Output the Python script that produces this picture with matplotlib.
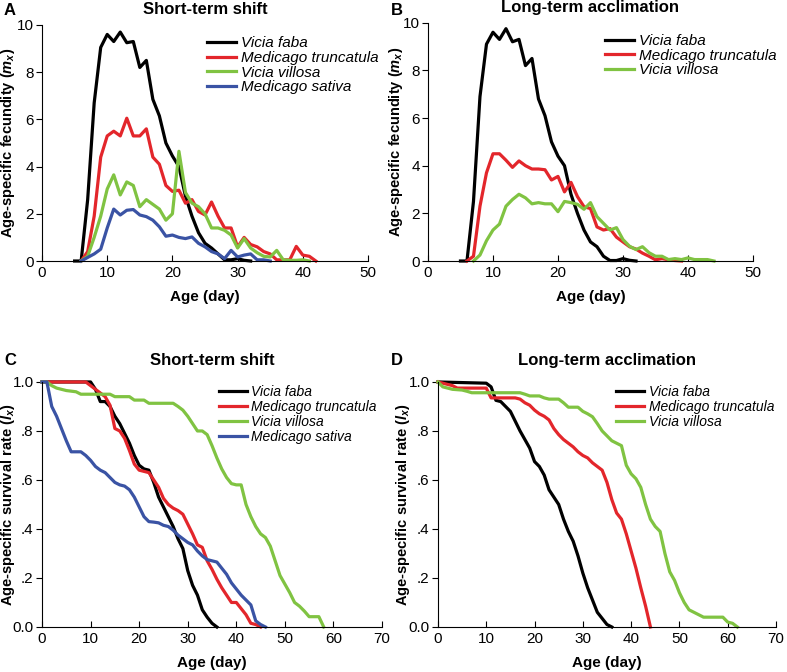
import matplotlib
matplotlib.use('Agg')
import matplotlib.pyplot as plt

plt.rcParams['font.family'] = ['Liberation Sans', 'DejaVu Sans']
plt.rcParams['mathtext.fontset'] = 'custom'
plt.rcParams['mathtext.it'] = 'Liberation Sans:bold:italic'
plt.rcParams['mathtext.rm'] = 'Liberation Sans:bold'

# couleurs des especes
col_faba = '#000000'
col_trunc = '#e3262b'
col_vill = '#80c342'
col_sat = '#3a53a4'

# A - fecondite, short-term shift
a_faba_days = list(range(5, 33))
a_faba = [0, 0, 2.6, 6.7, 9.05, 9.6, 9.3, 9.7, 9.25, 9.3, 8.2, 8.5, 6.85, 6.15,
          5.0, 4.45, 4.0, 2.75, 1.9, 1.2, 0.75, 0.55, 0.3, 0.05, 0.05, 0.1, 0.03, 0]
a_trunc_days = list(range(6, 43))
a_trunc = [0, 0.4, 1.9, 4.4, 5.3, 5.5, 5.3, 6.05, 5.3, 5.3, 5.6, 4.4, 4.1, 3.2,
           2.95, 3.0, 2.45, 2.6, 2.1, 1.95, 2.5, 1.9, 1.4, 1.4, 0.6, 1.0, 0.7, 0.6,
           0.4, 0.3, 0.05, 0.05, 0.05, 0.62, 0.25, 0.2, 0]
a_vill_days = list(range(6, 42))
a_vill = [0, 0.2, 1.0, 1.9, 3.05, 3.65, 2.8, 3.35, 3.2, 2.3, 2.6, 2.4, 2.2, 1.73,
          2.0, 4.65, 2.9, 2.45, 2.3, 2.0, 1.4, 1.4, 1.3, 1.1, 0.55, 0.95, 0.55,
          0.35, 0.2, 0.17, 0.45, 0.05, 0.03, 0.03, 0.05, 0]
a_sat_days = list(range(6, 36))
a_sat = [0, 0.15, 0.3, 0.5, 1.4, 2.2, 1.95, 2.15, 2.18, 1.95, 1.88, 1.73, 1.45,
         1.05, 1.1, 1.0, 0.95, 1.02, 0.75, 0.6, 0.4, 0.3, 0.1, 0.45, 0.17, 0.25,
         0.3, 0.05, 0.05, 0]

# B - fecondite, long-term acclimation
b_faba_days = list(range(5, 33))
b_faba = [0, 0, 2.5, 6.9, 9.1, 9.6, 9.3, 9.75, 9.2, 9.3, 8.2, 8.5, 6.8, 6.1,
          5.0, 4.4, 4.0, 2.8, 2.0, 1.3, 0.8, 0.6, 0.2, 0.02, 0.02, 0.1, 0.03, 0]
b_trunc_days = list(range(6, 40))
b_trunc = [0, 0.2, 2.3, 3.7, 4.5, 4.5, 4.23, 3.93, 4.2, 4.0, 3.86, 3.86, 3.83,
           3.4, 3.55, 2.9, 3.3, 2.7, 2.28, 2.2, 1.43, 1.3, 1.36, 1.0, 0.8, 0.6,
           0.5, 0.33, 0.2, 0.05, 0.1, 0.05, 0.02, 0]
b_vill_days = list(range(7, 45))
b_vill = [0, 0.25, 0.85, 1.3, 1.55, 2.3, 2.58, 2.8, 2.65, 2.4, 2.45, 2.4, 2.4,
          2.07, 2.5, 2.45, 2.38, 2.17, 2.45, 1.86, 1.58, 1.3, 1.4, 0.9, 0.62,
          0.48, 0.6, 0.35, 0.2, 0.2, 0.06, 0.1, 0.06, 0.13, 0.06, 0.06, 0.06, 0]

# C - survie, short-term shift
c_faba_days = [0, 10] + list(range(11, 37))
c_faba = [1.0, 1.0, 0.97, 0.92, 0.92, 0.90, 0.86, 0.83, 0.79, 0.75, 0.70, 0.66,
          0.645, 0.64, 0.59, 0.53, 0.49, 0.45, 0.41, 0.36, 0.32, 0.23, 0.17,
          0.13, 0.07, 0.04, 0.015, 0]
c_trunc_days = [0, 9] + list(range(10, 46))
c_trunc = [1.0, 1.0, 0.985, 0.97, 0.955, 0.94, 0.905, 0.81, 0.80, 0.77, 0.72,
           0.665, 0.64, 0.635, 0.63, 0.60, 0.57, 0.525, 0.50, 0.485, 0.475, 0.46,
           0.42, 0.38, 0.335, 0.325, 0.27, 0.235, 0.195, 0.16, 0.13, 0.10, 0.10,
           0.075, 0.05, 0.015, 0.01, 0]
c_vill_days = [0, 1, 2, 3, 5, 7, 8, 14, 15, 18, 19, 21, 22, 27] + list(range(28, 59))
c_vill = [1.0, 1.0, 0.985, 0.975, 0.965, 0.96, 0.95, 0.95, 0.94, 0.94, 0.926,
          0.926, 0.913, 0.913, 0.90, 0.885, 0.86, 0.83, 0.80, 0.80, 0.785, 0.74,
          0.69, 0.645, 0.61, 0.585, 0.58, 0.58, 0.50, 0.45, 0.41, 0.38, 0.365,
          0.33, 0.27, 0.21, 0.175, 0.14, 0.10, 0.085, 0.065, 0.042, 0.042, 0.042, 0]
c_sat_days = list(range(0, 47))
c_sat = [1.0, 1.0, 0.90, 0.86, 0.81, 0.76, 0.715, 0.715, 0.715, 0.70, 0.68,
         0.655, 0.64, 0.63, 0.61, 0.59, 0.58, 0.575, 0.56, 0.53, 0.49, 0.45, 0.43,
         0.428, 0.425, 0.415, 0.41, 0.395, 0.375, 0.36, 0.345, 0.335, 0.31, 0.29,
         0.275, 0.27, 0.265, 0.24, 0.215, 0.18, 0.155, 0.13, 0.11, 0.09, 0.025,
         0.01, 0]

# D - survie, long-term acclimation
d_faba_days = [0, 10] + list(range(11, 37))
d_faba = [1.0, 0.995, 0.98, 0.925, 0.92, 0.90, 0.88, 0.84, 0.80, 0.765, 0.73,
          0.675, 0.655, 0.62, 0.56, 0.53, 0.50, 0.44, 0.39, 0.35, 0.29, 0.22,
          0.16, 0.11, 0.06, 0.035, 0.01, 0]
d_trunc_days = [0, 1, 2, 3, 4, 10, 11, 16] + list(range(17, 45))
d_trunc = [1.0, 0.995, 0.99, 0.985, 0.975, 0.975, 0.935, 0.935, 0.93, 0.915,
           0.905, 0.885, 0.87, 0.86, 0.845, 0.81, 0.785, 0.765, 0.75, 0.735,
           0.715, 0.70, 0.69, 0.67, 0.655, 0.64, 0.59, 0.52, 0.465, 0.44, 0.38,
           0.31, 0.24, 0.16, 0.085, 0]
d_vill_days = [0, 1, 2, 3, 5, 6, 7, 17, 18, 19, 21, 22, 23, 25, 26, 27, 29] + \
    list(range(30, 56)) + [59, 60, 61, 62]
d_vill = [1.0, 0.98, 0.975, 0.97, 0.967, 0.962, 0.956, 0.956, 0.95, 0.943, 0.943,
          0.935, 0.93, 0.93, 0.915, 0.897, 0.897, 0.88, 0.87, 0.858, 0.83, 0.80,
          0.78, 0.76, 0.75, 0.74, 0.66, 0.625, 0.605, 0.57, 0.50, 0.44, 0.41,
          0.39, 0.30, 0.225, 0.19, 0.14, 0.10, 0.07, 0.06, 0.05, 0.04, 0.04,
          0.02, 0.015, 0]

names = ['Vicia faba', 'Medicago truncatula', 'Vicia villosa', 'Medicago sativa']


def style(ax, xmax, ymax):
    ax.spines['top'].set_visible(False)
    ax.spines['right'].set_visible(False)
    ax.set_xlim(0, xmax)
    ax.set_ylim(0, ymax)
    ax.tick_params(axis='y', direction='out', length=4, labelsize=11, pad=2)
    ax.tick_params(axis='x', direction='in', length=4, labelsize=11)
    ax.set_xlabel('Age (day)', fontsize=11, fontweight='bold', labelpad=7)


fig = plt.figure(figsize=(7.87, 6.72), dpi=100)
axA = fig.add_axes([0.0534, 0.6116, 0.4142, 0.3512])
axB = fig.add_axes([0.5438, 0.6116, 0.4130, 0.3546])
axC = fig.add_axes([0.0534, 0.067, 0.432, 0.3646])
axD = fig.add_axes([0.5565, 0.067, 0.4295, 0.3646])

lw = 2.3
axA.plot(a_faba_days, a_faba, color=col_faba, lw=lw, label=names[0], clip_on=False)
axA.plot(a_trunc_days, a_trunc, color=col_trunc, lw=lw, label=names[1], clip_on=False)
axA.plot(a_vill_days, a_vill, color=col_vill, lw=lw, label=names[2], clip_on=False)
axA.plot(a_sat_days, a_sat, color=col_sat, lw=lw, label=names[3], clip_on=False)

axB.plot(b_faba_days, b_faba, color=col_faba, lw=lw, label=names[0], clip_on=False)
axB.plot(b_trunc_days, b_trunc, color=col_trunc, lw=lw, label=names[1], clip_on=False)
axB.plot(b_vill_days, b_vill, color=col_vill, lw=lw, label=names[2], clip_on=False)

axC.plot(c_faba_days, c_faba, color=col_faba, lw=lw, label=names[0], clip_on=False)
axC.plot(c_trunc_days, c_trunc, color=col_trunc, lw=lw, label=names[1], clip_on=False)
axC.plot(c_vill_days, c_vill, color=col_vill, lw=lw, label=names[2], clip_on=False)
axC.plot(c_sat_days, c_sat, color=col_sat, lw=lw, label=names[3], clip_on=False)

axD.plot(d_faba_days, d_faba, color=col_faba, lw=lw, label=names[0], clip_on=False)
axD.plot(d_trunc_days, d_trunc, color=col_trunc, lw=lw, label=names[1], clip_on=False)
axD.plot(d_vill_days, d_vill, color=col_vill, lw=lw, label=names[2], clip_on=False)

for ax in [axA, axB]:
    style(ax, 50, 10)
    ax.set_xticks(range(0, 51, 10))
    ax.set_yticks(range(0, 11, 2))
    ax.set_ylabel('Age-specific fecundity ($m_x$)', fontsize=10.5, fontweight='bold')

for ax in [axC, axD]:
    style(ax, 70, 1.0)
    ax.set_xticks(range(0, 71, 10))
    ax.set_yticks([0, 0.2, 0.4, 0.6, 0.8, 1.0])
    ax.set_yticklabels(['0.0', '.2', '.4', '.6', '.8', '1.0'])
    ax.set_ylabel('Age-specific survival rate ($l_x$)', fontsize=10.5, fontweight='bold')

# position des titres d'axe y (comme sur la figure)
axA.yaxis.set_label_coords(-0.076, 0.5)
axB.yaxis.set_label_coords(-0.07, 0.5)
axC.yaxis.set_label_coords(-0.074, 0.5)
axD.yaxis.set_label_coords(-0.077, 0.5)

axA.set_title('Short-term shift', fontsize=12, fontweight='bold', pad=8)
axB.set_title('Long-term acclimation', fontsize=12, fontweight='bold', pad=8)
axC.set_title('Short-term shift', fontsize=12, fontweight='bold', pad=12)
axD.set_title('Long-term acclimation', fontsize=12, fontweight='bold', pad=12)

leg_kw = dict(frameon=False, loc='upper left', borderpad=0, borderaxespad=0,
              prop={'style': 'italic', 'size': 11}, labelspacing=0.05,
              handlelength=1.9, handletextpad=0.35)
axA.legend(bbox_to_anchor=(0.505, 0.953), **leg_kw)
axB.legend(bbox_to_anchor=(0.545, 0.953), **leg_kw)
leg_kw['prop'] = {'style': 'italic', 'size': 10}
leg_kw['handlelength'] = 2.0
leg_kw['labelspacing'] = 0.06
axC.legend(bbox_to_anchor=(0.52, 0.987), **leg_kw)
axD.legend(bbox_to_anchor=(0.527, 0.987), **leg_kw)

# lettres des panneaux
fig.text(0.005, 0.995, 'A', fontsize=12, fontweight='bold', va='top')
fig.text(0.497, 0.995, 'B', fontsize=12, fontweight='bold', va='top')
fig.text(0.005, 0.475, 'C', fontsize=12, fontweight='bold', va='top')
fig.text(0.497, 0.475, 'D', fontsize=12, fontweight='bold', va='top')

plt.savefig('out.png', dpi=100)
